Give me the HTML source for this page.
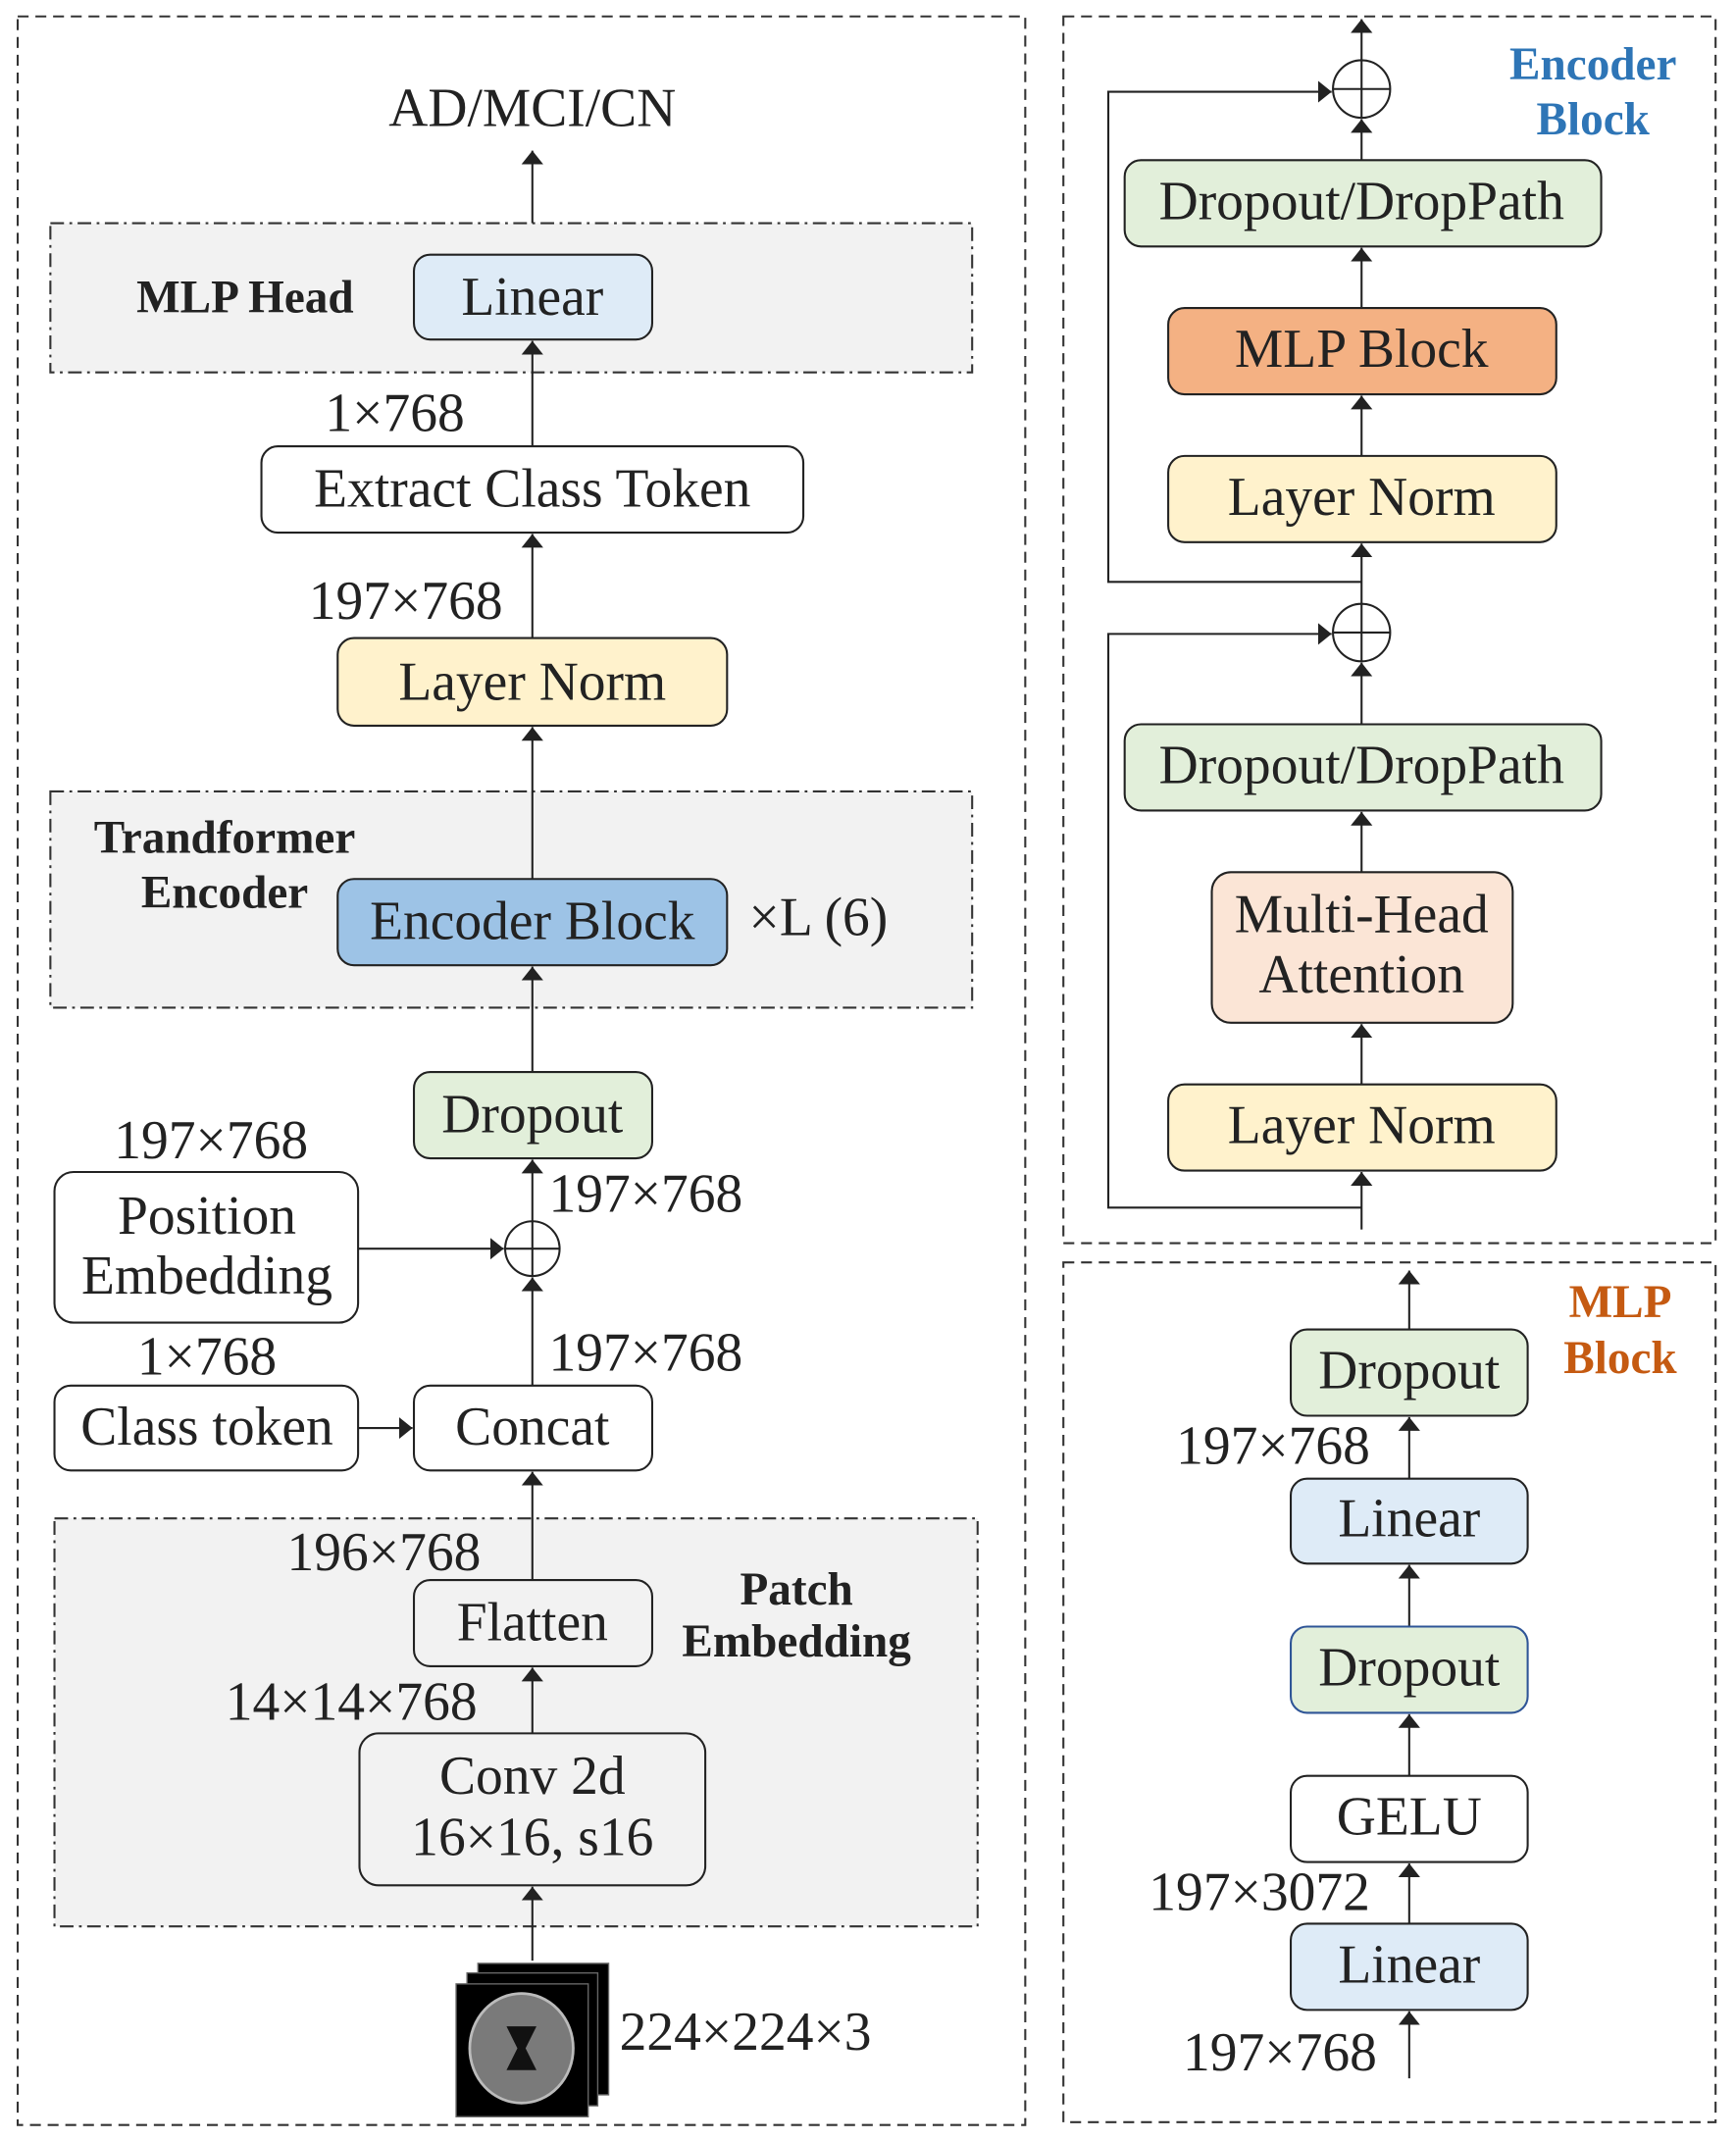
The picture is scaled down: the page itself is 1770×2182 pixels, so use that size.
<!DOCTYPE html>
<html><head><meta charset="utf-8"><style>
html,body{margin:0;padding:0;background:#fff}
svg{display:block}
text{font-family:"Liberation Serif",serif;fill:#222}
.b{font-weight:bold}
</style></head><body>
<svg width="1770" height="2182" viewBox="0 0 1275 1563" preserveAspectRatio="none" xmlns="http://www.w3.org/2000/svg">
<defs>
<marker id="a" viewBox="0 0 10 16" refX="10" refY="8" markerWidth="10" markerHeight="16" markerUnits="userSpaceOnUse" orient="auto"><path d="M0,0 L10,8 L0,16 z" fill="#222"/></marker>
</defs>
<g fill="none" stroke="#333" stroke-width="1.5" stroke-dasharray="8,5">
<rect x="13" y="12" width="740" height="1540"/>
<rect x="781" y="12" width="479" height="896"/>
<rect x="781" y="922" width="479" height="628"/>
</g>
<g fill="#f2f2f2" stroke="#333" stroke-width="1.5" stroke-dasharray="10,4,2,4">
<rect x="37" y="163" width="677" height="109"/>
<rect x="37" y="578" width="677" height="158"/>
<rect x="40" y="1109" width="678" height="298"/>
</g>
<g stroke="#222" stroke-width="1.5" fill="none" marker-end="url(#a)">
<line x1="391" y1="163" x2="391" y2="110"/>
<line x1="391" y1="326" x2="391" y2="249"/>
<line x1="391" y1="466" x2="391" y2="390"/>
<line x1="391" y1="642" x2="391" y2="531"/>
<line x1="391" y1="783" x2="391" y2="706"/>
<line x1="391" y1="892" x2="391" y2="847"/>
<line x1="391" y1="1012" x2="391" y2="933"/>
<line x1="263" y1="912" x2="370" y2="912"/>
<line x1="263" y1="1043" x2="303" y2="1043"/>
<line x1="391" y1="1154" x2="391" y2="1075"/>
<line x1="391" y1="1266" x2="391" y2="1218"/>
<line x1="391" y1="1432" x2="391" y2="1378"/>
<line x1="1000" y1="44" x2="1000" y2="14"/>
<line x1="1000" y1="117" x2="1000" y2="87"/>
<line x1="1000" y1="225" x2="1000" y2="181"/>
<line x1="1000" y1="333" x2="1000" y2="289"/>
<line x1="1000" y1="441" x2="1000" y2="397"/>
<line x1="1000" y1="529" x2="1000" y2="484"/>
<line x1="1000" y1="637" x2="1000" y2="593"/>
<line x1="1000" y1="792" x2="1000" y2="748"/>
<line x1="1000" y1="898" x2="1000" y2="856"/>
<polyline points="1000,425 814,425 814,67 978,67"/>
<polyline points="1000,882 814,882 814,463 978,463"/>
<line x1="1035" y1="971" x2="1035" y2="928"/>
<line x1="1035" y1="1080" x2="1035" y2="1035"/>
<line x1="1035" y1="1188" x2="1035" y2="1143"/>
<line x1="1035" y1="1297" x2="1035" y2="1252"/>
<line x1="1035" y1="1405" x2="1035" y2="1361"/>
<line x1="1035" y1="1518" x2="1035" y2="1469"/>
</g>
<g stroke="#222" stroke-width="1.5" fill="#fff">
<circle cx="391" cy="912" r="20"/><line x1="371" y1="912" x2="411" y2="912"/><line x1="391" y1="892" x2="391" y2="932"/>
<circle cx="1000" cy="65" r="21"/><line x1="979" y1="65" x2="1021" y2="65"/><line x1="1000" y1="44" x2="1000" y2="86"/>
<circle cx="1000" cy="462" r="21"/><line x1="979" y1="462" x2="1021" y2="462"/><line x1="1000" y1="441" x2="1000" y2="483"/>
</g>
<g stroke="#222" stroke-width="1.5">
<rect x="304" y="186" width="175" height="62" rx="12" fill="#deebf7"/>
<rect x="192" y="326" width="398" height="63" rx="12" fill="#fff"/>
<rect x="248" y="466" width="286" height="64" rx="12" fill="#fff2cc"/>
<rect x="248" y="642" width="286" height="63" rx="12" fill="#9dc3e6"/>
<rect x="304" y="783" width="175" height="63" rx="12" fill="#e2efda"/>
<rect x="40" y="856" width="223" height="110" rx="14" fill="#fff"/>
<rect x="40" y="1012" width="223" height="62" rx="12" fill="#fff"/>
<rect x="304" y="1012" width="175" height="62" rx="12" fill="#fff"/>
<rect x="304" y="1154" width="175" height="63" rx="12" fill="#f2f2f2"/>
<rect x="264" y="1266" width="254" height="111" rx="14" fill="#f2f2f2"/>
<rect x="826" y="117" width="350" height="63" rx="12" fill="#e2efda"/>
<rect x="858" y="225" width="285" height="63" rx="12" fill="#f4b183"/>
<rect x="858" y="333" width="285" height="63" rx="12" fill="#fff2cc"/>
<rect x="826" y="529" width="350" height="63" rx="12" fill="#e2efda"/>
<rect x="890" y="637" width="221" height="110" rx="14" fill="#fbe5d6"/>
<rect x="858" y="792" width="285" height="63" rx="12" fill="#fff2cc"/>
<rect x="948" y="971" width="174" height="63" rx="12" fill="#e2efda"/>
<rect x="948" y="1080" width="174" height="62" rx="12" fill="#deebf7"/>
<rect x="948" y="1188" width="174" height="63" rx="12" fill="#e2efda" stroke="#2f5597"/>
<rect x="948" y="1297" width="174" height="63" rx="12" fill="#fff"/>
<rect x="948" y="1405" width="174" height="63" rx="12" fill="#deebf7"/>
</g>
<g fill="#000" stroke="#666" stroke-width="1">
<rect x="351" y="1434" width="96" height="96"/>
<rect x="343" y="1441" width="96" height="97"/>
<rect x="335" y="1449" width="97" height="97"/>
</g>
<ellipse cx="383" cy="1496" rx="38" ry="40" fill="#7a7a7a" stroke="#bbb" stroke-width="2"/>
<path d="M372,1480 L394,1480 L386,1496 L394,1512 L372,1512 L380,1496 z" fill="#111"/>
<g font-size="40" text-anchor="middle">
<text x="391" y="92">AD/MCI/CN</text>
<text x="391" y="230">Linear</text>
<text x="290" y="315">1×768</text>
<text x="391" y="370">Extract Class Token</text>
<text x="298" y="452">197×768</text>
<text x="391" y="511">Layer Norm</text>
<text x="391" y="686">Encoder Block</text>
<text x="391" y="827">Dropout</text>
<text x="155" y="846">197×768</text>
<text x="152" y="901">Position</text>
<text x="152" y="945">Embedding</text>
<text x="152" y="1004">1×768</text>
<text x="152" y="1055">Class token</text>
<text x="391" y="1055">Concat</text>
<text x="282" y="1147">196×768</text>
<text x="391" y="1198">Flatten</text>
<text x="258" y="1256">14×14×768</text>
<text x="391" y="1310">Conv 2d</text>
<text x="391" y="1355">16×16, s16</text>
<text x="1000" y="160">Dropout/DropPath</text>
<text x="1000" y="268">MLP Block</text>
<text x="1000" y="376">Layer Norm</text>
<text x="1000" y="572">Dropout/DropPath</text>
<text x="1000" y="681">Multi-Head</text>
<text x="1000" y="725">Attention</text>
<text x="1000" y="835">Layer Norm</text>
<text x="1035" y="1014">Dropout</text>
<text x="935" y="1069">197×768</text>
<text x="1035" y="1122">Linear</text>
<text x="1035" y="1231">Dropout</text>
<text x="1035" y="1340">GELU</text>
<text x="925" y="1395">197×3072</text>
<text x="1035" y="1448">Linear</text>
<text x="940" y="1512">197×768</text>
</g>
<g font-size="40">
<text x="550" y="683">×L (6)</text>
<text x="403" y="885">197×768</text>
<text x="403" y="1001">197×768</text>
<text x="455" y="1497">224×224×3</text>
</g>
<g font-size="34" class="b" text-anchor="middle">
<text x="180" y="228" class="b">MLP Head</text>
<text x="165" y="623" class="b">Trandformer</text>
<text x="165" y="663" class="b">Encoder</text>
<text x="585" y="1172" class="b">Patch</text>
<text x="585" y="1210" class="b">Embedding</text>
<text x="1170" y="58" class="b" style="fill:#2e75b6">Encoder</text>
<text x="1170" y="98" class="b" style="fill:#2e75b6">Block</text>
<text x="1190" y="962" class="b" style="fill:#c55a11">MLP</text>
<text x="1190" y="1003" class="b" style="fill:#c55a11">Block</text>
</g>
</svg>
</body></html>
